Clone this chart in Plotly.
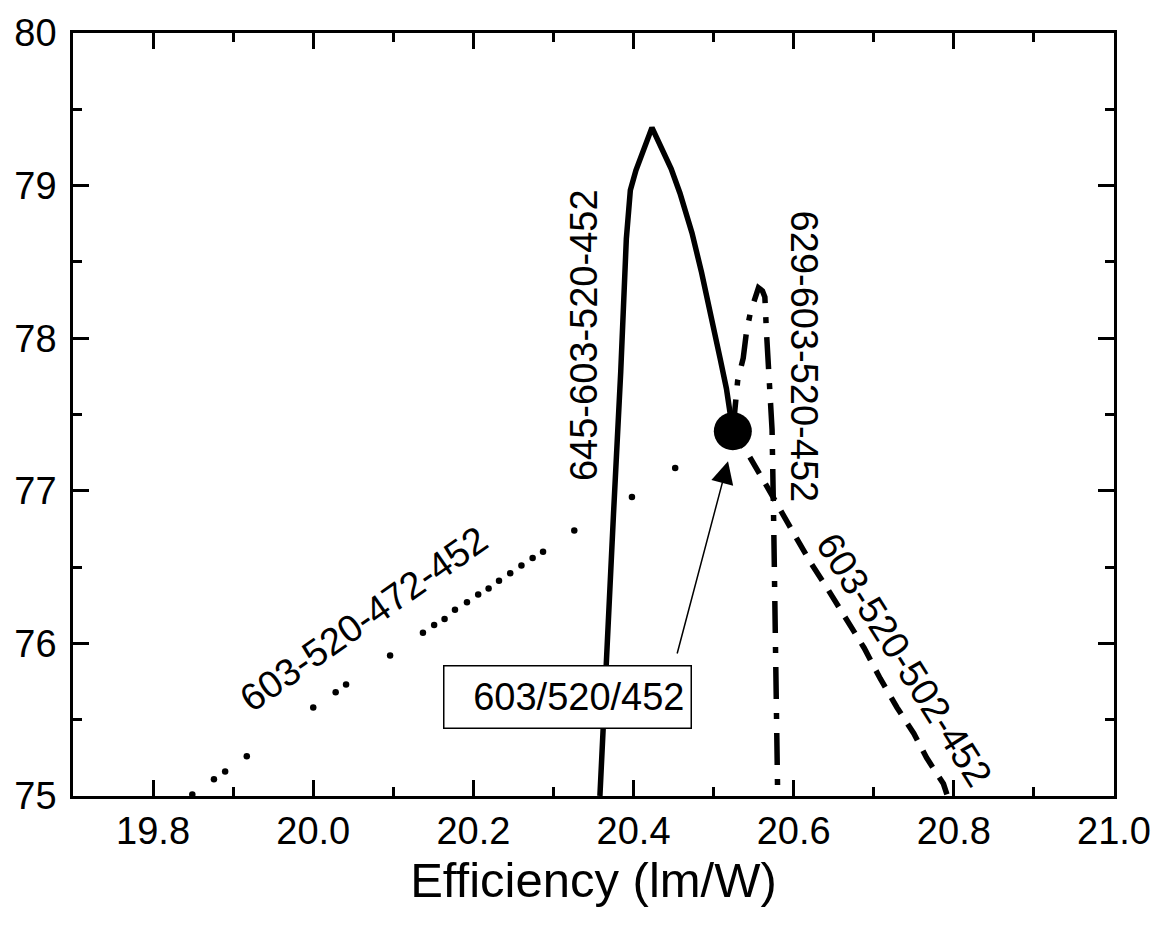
import plotly.graph_objects as go

# ---- data ----
solid_x = [20.358, 20.367, 20.375, 20.384, 20.391, 20.396, 20.403, 20.423, 20.434,
           20.447, 20.458, 20.473, 20.485, 20.498, 20.508, 20.516, 20.520, 20.524]
solid_y = [75.00, 75.90, 76.85, 77.78, 78.65, 78.97, 79.10, 79.38, 79.25,
           79.11, 78.95, 78.69, 78.43, 78.13, 77.87, 77.67, 77.52, 77.39]

dashdot_x = [20.524, 20.530, 20.537, 20.541, 20.546, 20.556, 20.561, 20.564, 20.566,
             20.570, 20.573, 20.575, 20.577, 20.579, 20.580]
dashdot_y = [77.39, 77.72, 77.87, 78.04, 78.17, 78.33, 78.31, 78.27, 78.04,
             77.74, 77.40, 76.80, 76.16, 75.62, 75.00]

dashed_x = [20.524, 20.543, 20.562, 20.584, 20.601, 20.621, 20.642, 20.663, 20.688,
            20.708, 20.729, 20.750, 20.766, 20.787, 20.792]
dashed_y = [77.39, 77.24, 77.07, 76.87, 76.72, 76.53, 76.36, 76.18, 75.97,
            75.77, 75.58, 75.41, 75.25, 75.08, 75.00]

dotted_x = [19.849, 19.876, 19.890, 19.917, 20.000, 20.028, 20.041, 20.096, 20.137,
            20.151, 20.164, 20.177, 20.192, 20.206, 20.219, 20.232, 20.246, 20.260,
            20.274, 20.287, 20.326, 20.398, 20.452]
dotted_y = [75.01, 75.11, 75.16, 75.26, 75.58, 75.68, 75.73, 75.92, 76.07,
            76.12, 76.16, 76.22, 76.27, 76.32, 76.36, 76.41, 76.46, 76.51,
            76.56, 76.60, 76.74, 76.96, 77.15]

point_x = [20.524]
point_y = [77.39]

x_range = [19.7, 21.0]
y_range = [75, 80]

FONT = "Liberation Sans, Arial, sans-serif"

fig = go.Figure()
fig.add_trace(go.Scatter(x=solid_x, y=solid_y, mode="lines",
                         line=dict(color="black", width=5.5), showlegend=False))
fig.add_trace(go.Scatter(x=dashdot_x, y=dashdot_y, mode="lines",
                         line=dict(color="black", width=5.5, dash="32px,14px,6px,14px"),
                         showlegend=False))
fig.add_trace(go.Scatter(x=dashed_x, y=dashed_y, mode="lines",
                         line=dict(color="black", width=5.5, dash="19px,12px"),
                         showlegend=False))
fig.add_trace(go.Scatter(x=dotted_x, y=dotted_y, mode="markers",
                         marker=dict(color="black", size=6.5), showlegend=False))
fig.add_trace(go.Scatter(x=point_x, y=point_y, mode="markers",
                         marker=dict(color="black", size=38), showlegend=False))

ann_font = dict(family=FONT, size=38, color="black")
fig.add_annotation(x=20.338, y=78.02, text="645-603-520-452", textangle=-90,
                   showarrow=False, font=ann_font)
fig.add_annotation(x=20.614, y=77.88, text="629-603-520-452", textangle=90,
                   showarrow=False, font=ann_font)
fig.add_annotation(x=20.738, y=75.89, text="603-520-502-452", textangle=57.5,
                   showarrow=False, font=ann_font)
fig.add_annotation(x=20.063, y=76.16, text="603-520-472-452", textangle=-35,
                   showarrow=False, font=ann_font)
fig.add_annotation(x=20.317, y=75.648, text="603/520/452", showarrow=False,
                   font=ann_font, bordercolor="black", borderwidth=1.5,
                   borderpad=6, width=234, height=49, align="right",
                   bgcolor="white")
fig.add_annotation(x=20.518, y=77.194, ax=20.454, ay=75.924, axref="x", ayref="y",
                   text="", showarrow=True, arrowhead=2, arrowsize=3,
                   arrowwidth=1.5, arrowcolor="black", standoff=0)

axis_common = dict(showline=True, linecolor="black", linewidth=2.5, mirror="allticks",
                   ticks="inside", ticklen=16, tickwidth=2.5, tickcolor="black",
                   showgrid=False, zeroline=False,
                   tickfont=dict(family=FONT, size=38, color="black"))

fig.update_xaxes(range=x_range, tick0=19.8, dtick=0.2, tickformat=".1f",
                 minor=dict(dtick=0.1, ticks="inside", ticklen=9, tickwidth=2.5,
                            tickcolor="black"),
                 title=dict(text="Efficiency (lm/W)",
                            font=dict(family=FONT, size=49, color="black"),
                            standoff=12),
                 **axis_common)
fig.update_yaxes(range=y_range, dtick=1, ticklabelstandoff=6,
                 minor=dict(dtick=0.5, ticks="inside", ticklen=9, tickwidth=2.5,
                            tickcolor="black"),
                 **axis_common)

fig.update_layout(width=1163, height=927, paper_bgcolor="white", plot_bgcolor="white",
                  margin=dict(l=73, r=41, t=24, b=131), font=dict(family=FONT))

fig.write_html("out.html")
